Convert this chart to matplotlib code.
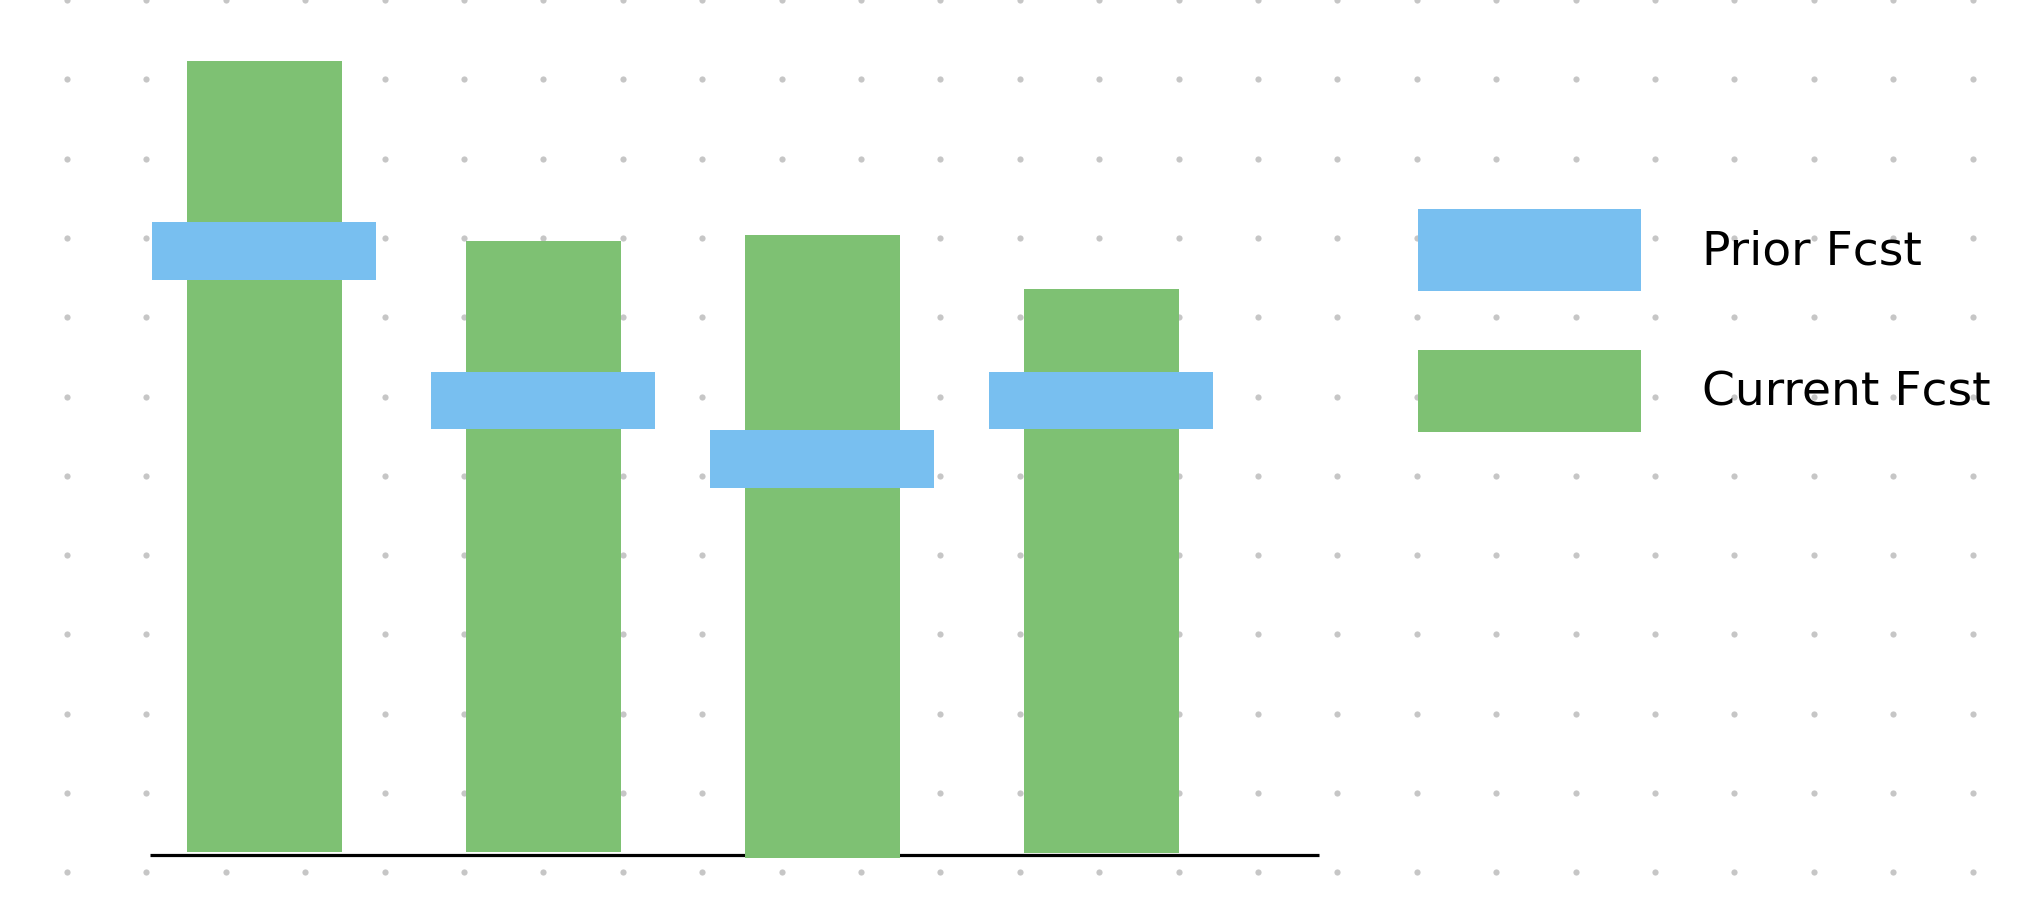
import numpy as np
import matplotlib
matplotlib.use("Agg")
import matplotlib.pyplot as plt
from matplotlib.patches import Patch

# data (baseline = 0, one dot row = 10 units)
categories = ["A", "B", "C", "D"]
current_fcst = [100.1, 77.4, 78.2, 71.3]
current_base = [0.4, 0.4, -0.4, 0.25]
prior_fcst = [76.2, 57.3, 49.9, 57.3]
prior_band = 7.3

labels = ["Prior Fcst", "Current Fcst"]

GREEN = "#7ec173"
BLUE = "#78bff0"
W, H = 2026, 909

fig = plt.figure(figsize=(W / 100, H / 100), dpi=100)
fig.patch.set_facecolor("white")

# dotted paper background
bg = fig.add_axes([0, 0, 1, 1], zorder=0)
bg.set_xlim(0, W)
bg.set_ylim(H, 0)
bg.axis("off")
gx, gy = np.meshgrid(67 + 79.4 * np.arange(25), 79.3 * np.arange(12))
bg.scatter(gx.ravel(), gy.ravel(), s=20, color="#c6c6c6", linewidths=0)

# bars
ax = fig.add_axes([0, 0, 1, 1], zorder=1)
ax.patch.set_alpha(0)
ax.set_xlim(-0.948, 6.314)
ax.set_ylim(-6.81, 107.8)
ax.axis("off")

x = np.arange(len(categories))
ax.plot([-0.41, 3.78], [0, 0], color="black", linewidth=2.3, zorder=1,
        solid_capstyle="butt")
ax.bar(x, np.array(current_fcst) - np.array(current_base), bottom=current_base,
       width=0.556, color=GREEN, zorder=2)
ax.bar(x, prior_band, bottom=np.array(prior_fcst) - prior_band / 2,
       width=0.803, color=BLUE, zorder=3)

handles = [Patch(facecolor=BLUE), Patch(facecolor=GREEN)]
ax.legend(handles, labels, loc="upper left",
          bbox_to_anchor=(1418 / W, 1 - 209 / H), bbox_transform=fig.transFigure,
          frameon=False, fontsize=34, borderpad=0, borderaxespad=0,
          handlelength=4.72, handleheight=2.29, handletextpad=1.3,
          labelspacing=1.25)

fig.savefig("out.png", dpi=100, facecolor="white")
